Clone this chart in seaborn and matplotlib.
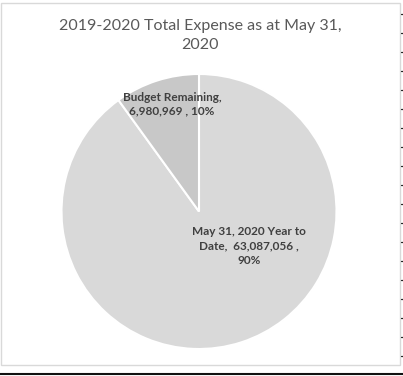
import matplotlib
matplotlib.use("Agg")
import matplotlib.pyplot as plt
from matplotlib.lines import Line2D
from matplotlib.patches import Rectangle
import seaborn as sns

# Expense breakdown for the 2019-2020 budget year
categories = ["May 31, 2020 Year to Date", "Budget Remaining"]
amounts = [63087056, 6980969]
label_lines = [["May 31, 2020 Year to", "Date,  {amt} ,", "{pct}"],
               ["Budget Remaining,", "{amt} , {pct}"]]
title = "2019-2020 Total Expense as at May 31,\n2020"

sns.set_theme(style="white")
plt.rcParams["font.family"] = ["Lato", "DejaVu Sans"]

W, H = 403, 376
fig = plt.figure(figsize=(W / 100, H / 100), dpi=100)
fig.patch.set_facecolor("white")

# chart frame and worksheet gridline stubs on the right
fig.add_artist(Rectangle((0.5 / W, 1 - 365 / H), 399.5 / W, 362 / H,
                         transform=fig.transFigure, fill=False,
                         edgecolor="#d9d9d9", linewidth=1.0))
for k in range(19):
    yy = 1 - (14 + 19 * k) / H
    fig.add_artist(Line2D([401 / W, 403 / W], [yy, yy], transform=fig.transFigure,
                          color="#222222", linewidth=0.9))
fig.add_artist(Line2D([0, 1], [1 - 374 / H] * 2, transform=fig.transFigure,
                      color="#111111", linewidth=1.5))

# pie axes: centre (199, 211.5) px, radius 137.5 px
cx, cy, r = 199, 211.5, 137.5
ax = fig.add_axes([(cx - r) / W, (H - cy - r) / H, 2 * r / W, 2 * r / H])
colors = ["#d9d9d9", "#c8c8c8"]
ax.pie(amounts, colors=colors, startangle=90, counterclock=False,
       wedgeprops=dict(edgecolor="white", linewidth=1.5), radius=1.0)
ax.set_xlim(-1, 1)
ax.set_ylim(-1, 1)
ax.set_aspect("equal")
ax.axis("off")

total = sum(amounts)
label_pos = [(0.364, -0.251), (-0.196, 0.78)]
for lines, amt, (lx, ly) in zip(label_lines, amounts, label_pos):
    pct = f"{round(100 * amt / total):d}%"
    txt = "\n".join(l.format(amt=f"{amt:,}", pct=pct) for l in lines)
    ax.text(lx, ly, txt, ha="center", va="center", fontsize=8.5,
            fontweight="bold", color="#404040", linespacing=1.35)

fig.text(200 / W, 1 - 35.5 / H, title, ha="center", va="center",
         fontsize=11.5, color="#595959", linespacing=1.5)

fig.savefig("out.png", dpi=100)
